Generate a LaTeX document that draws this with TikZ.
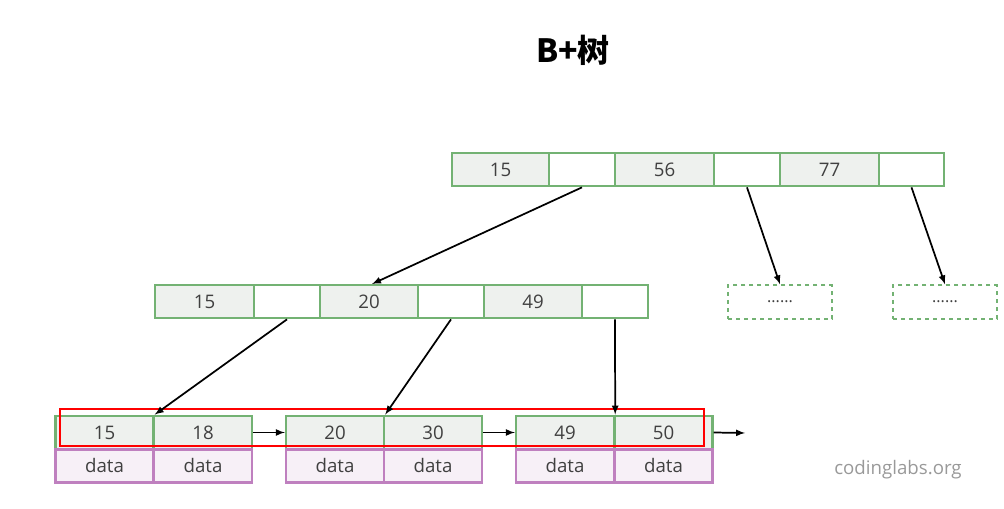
\documentclass[tikz,border=0pt]{standalone}
\usepackage{fontspec}
\setmainfont{Open Sans}
\newfontfamily\cjk{Noto Sans CJK SC}
\begin{document}
\begin{tikzpicture}[x=0.75pt,y=-0.75pt,
  key/.style={draw=green!45!black!55!white,line width=1.8pt,fill=green!8!gray!12,minimum height=25pt,inner sep=0pt,font=\fontsize{14}{14}\selectfont,text=black!75},
  ptr/.style={draw=green!45!black!55!white,line width=1.8pt,fill=white,minimum height=25pt,inner sep=0pt},
  dat/.style={draw=violet!50!white,line width=1.8pt,fill=violet!6,minimum height=25pt,inner sep=0pt,font=\fontsize{14}{14}\selectfont,text=black!75},
  dbox/.style={draw=green!45!black!55!white,line width=1.5pt,dashed,minimum width=78pt,minimum height=25pt,font=\fontsize{12}{12}\selectfont,text=black!75},
  arr/.style={-latex,line width=1.3pt}]
\useasboundingbox (0,0) rectangle (1004,509);
\node[font=\cjk\bfseries\fontsize{24}{24}\selectfont] (title) at (573,50) {B+树};
% root
\node[key,minimum width=72.75pt] (r1) at (500.5,169.5) {15};
\node[ptr,minimum width=49.5pt] (r2) at (582,169.5) {};
\node[key,minimum width=74.25pt] (r3) at (664.5,169.5) {56};
\node[ptr,minimum width=49.5pt] (r4) at (747,169.5) {};
\node[key,minimum width=74.25pt] (r5) at (829.5,169.5) {77};
\node[ptr,minimum width=48.75pt] (r6) at (911.5,169.5) {};
% middle
\node[key,minimum width=74.25pt] (m1) at (204.5,301.5) {15};
\node[ptr,minimum width=49.5pt] (m2) at (287,301.5) {};
\node[key,minimum width=73.5pt] (m3) at (369,301.5) {20};
\node[ptr,minimum width=49.5pt] (m4) at (451,301.5) {};
\node[key,minimum width=73.5pt] (m5) at (533,301.5) {49};
\node[ptr,minimum width=49.5pt] (m6) at (615,301.5) {};
\node[dbox] (d1) at (780,302) {......};
\node[dbox] (d2) at (945,302) {......};
% leaves
\foreach \n/\x/\k in {a/104.5/15,b/203/18,c/335/20,d/433/30,e/565/49,f/663.5/50}{
  \node[key,minimum width=73.5pt] (k\n) at (\x,432.5) {\k};
  \node[dat,minimum width=73.5pt] (t\n) at (\x,466) {data};
}
\node[draw=red,line width=2pt,minimum width=483pt,minimum height=27.75pt,inner sep=0pt] (sel) at (382,427.5) {};
\coordinate (end) at (745,433);
\draw[arr] (r2.south) -- (372,284);
\draw[arr] (r4.south) -- (d1.north);
\draw[arr] (r6.south) -- (d2.north);
\draw[arr] (m2.south) -- (ka.north east);
\draw[arr] (m4.south) -- (kc.north east);
\draw[arr] (m6.south) -- (ke.north east);
\draw[arr] (kb.east) -- (kc.west);
\draw[arr] (kd.east) -- (ke.west);
\draw[arr] (kf.east) -- (end);
\node[text=black!40,font=\fontsize{14}{14}\selectfont] (wm) at (898,470) {codinglabs.org};
\end{tikzpicture}
\end{document}
